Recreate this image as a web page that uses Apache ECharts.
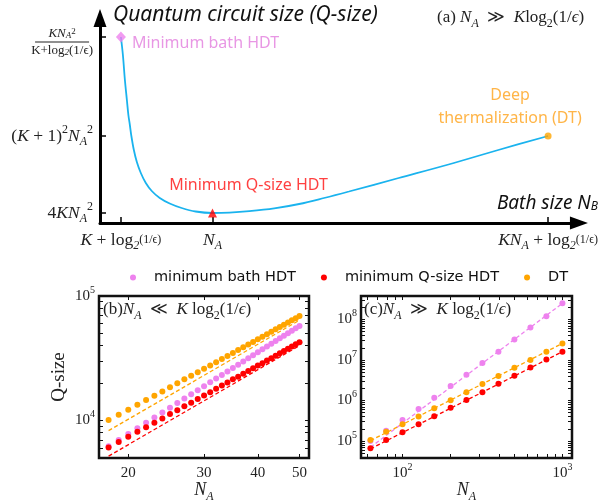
<!DOCTYPE html>
<html>
<head>
<meta charset="utf-8">
<script src="https://cdn.jsdelivr.net/npm/echarts@6.0.0/dist/echarts.min.js"></script>
<style>
html,body{margin:0;padding:0;background:#fff;}
#main{width:601px;height:504px;}
</style>
</head>
<body>
<div id="main"></div>
<script>
var SERIF = 'Liberation Serif';
var SANS = 'Noto Sans';

// ---- (a) schematic Q-size vs bath size, arbitrary units ----
var curveX = [21, 23, 25, 27, 28.5, 30, 31.5, 34, 37, 41, 46, 52, 60, 70, 82, 96, 113, 130, 150, 175, 200, 225, 250, 300, 350, 400, 450];
var curveY = [186, 168, 143, 123, 108, 98, 87, 73, 61, 50, 40, 32, 25, 19.5, 15, 11.5, 10, 10.4, 11.8, 14.6, 19, 25, 31.5, 45, 58.5, 73, 87];
var aTickX = [21, 113, 450];
var aTickXLabels = [
  '{it|K}{rm| + log}{sb|2}{sm|(1/ϵ)}',
  '{it|N}{sb|A}',
  '{it|KN}{sb|A}{rm| + log}{sb|2}{sm|(1/ϵ)}'
];
var aTickY = [10, 87, 186];
var aTickYLabels = [
  '{rm|4}{it|KN}{sb|A}{sp|2}',
  '{rm|(}{it|K}{rm| + 1)}{sp|2}{it|N}{sb|A}{sp|2}',
  '{gap| }\n{fn|KN}{fb|A}{fs|2}\n{bar| }\n{fd|K+log}{fb|2}{fd|(1/ϵ)}'
];

// ---- (b) N_A << K log2(1/eps) ----
var nB = [18,19,20,21,22,23,24,25,26,27,28,29,30,31,32,33,34,35,36,37,38,39,40,41,42,43,44,45,46,47,48,49,50];
var bathB = [6200,6980,7800,8680,9600,10580,11610,12690,13820,15010,16240,17540,18880,20280,21730,23240,24800,26420,28100,29830,31610,33450,35350,37300,39320,41390,43510,45700,47940,50240,52600,55020,57500];
var qsizeB = [6080,6730,7400,8110,8840,9610,10400,11300,12100,13000,13900,14900,15900,16900,18000,19100,20200,21400,22500,23800,25000,26300,27600,28900,30300,31700,33200,34700,36200,37700,39300,40900,42500];
var dtB = [10100,11100,12200,13400,14600,15800,17100,18500,19900,21400,22900,24400,26000,27700,29400,31200,33000,34900,36800,38700,40800,42800,45000,47100,49400,51600,54000,56300,58800,61300,63800,66400,69000];
var fitNB = [18, 50];
var qsizeFitB = [5180, 40000];
var dtFitB = [8290, 64000];
var bTicksY = [5000,6000,7000,8000,9000,10000,20000,30000,40000,50000,60000,70000,80000,90000,100000];
var bLabelsY = [10000, 100000];
var bTicksX = [20, 30, 40, 50];

// ---- (c) N_A >> K log2(1/eps) ----
var nC = [63, 79, 100, 126, 158, 200, 251, 316, 398, 501, 631, 794, 1000];
var bathC = [1.0e5, 1.8e5, 3.3e5, 6.2e5, 1.17e6, 2.27e6, 4.3e6, 8.4e6, 1.6e7, 3.2e7, 6.3e7, 1.2e8, 2.5e8];
var qsizeC = [6.6e4, 1.05e5, 1.65e5, 2.6e5, 4.1e5, 6.6e5, 1.03e6, 1.6e6, 2.6e6, 4.1e6, 6.5e6, 1.03e7, 1.6e7];
var dtC = [1.05e5, 1.7e5, 2.6e5, 4.0e5, 6.4e5, 1.02e6, 1.6e6, 2.55e6, 4.0e6, 6.4e6, 1.0e7, 1.6e7, 2.56e7];
var fitNC = [63, 1000];
var bathFitC = [7.0e4, 2.5e8];
var qsizeFitC = [6.4e4, 1.6e7];
var dtFitC = [1.02e5, 2.56e7];
var cTicksY = [4e4,5e4,6e4,7e4,8e4,9e4,1e5,2e5,3e5,4e5,5e5,6e5,7e5,8e5,9e5,1e6,2e6,3e6,4e6,5e6,6e6,7e6,8e6,9e6,1e7,2e7,3e7,4e7,5e7,6e7,7e7,8e7,9e7,1e8,2e8,3e8];
var cLabelsY = [1e5, 1e6, 1e7, 1e8];
var cTicksX = [60,70,80,90,100,200,300,400,500,600,700,800,900,1000];
var cLabelsX = [100, 1000];

var names = ['minimum bath HDT', 'minimum Q-size HDT', 'DT'];
var colors = ['#ee82ee', '#ff0000', '#ffa500'];

function pairs(xs, ys) {
  return xs.map(function (x, i) { return [x, ys[i]]; });
}
function lookup(vals, labels) {
  return function (v) {
    for (var i = 0; i < vals.length; i++) {
      if (Math.abs(v - vals[i]) < 1e-6 * Math.max(1, Math.abs(vals[i]))) return labels[i];
    }
    return '';
  };
}
function pow10(v) {
  return '{b|10}{e|' + Math.round(Math.log10(v)) + '}';
}

var ink = '#222';
var mathRich = {
  rm: {fontFamily: SERIF, fontSize: 17.5, lineHeight: 24, color: ink},
  it: {fontFamily: SERIF, fontStyle: 'italic', fontSize: 17.5, lineHeight: 24, color: ink},
  sp: {fontFamily: SERIF, fontSize: 12, lineHeight: 14, verticalAlign: 'top', color: ink},
  sb: {fontFamily: SERIF, fontStyle: 'italic', fontSize: 12, lineHeight: 14, verticalAlign: 'bottom', color: ink},
  sm: {fontFamily: SERIF, fontSize: 12, lineHeight: 24, color: ink},
  gap: {fontSize: 6, lineHeight: 10, align: 'center'},
  fn: {fontFamily: SERIF, fontStyle: 'italic', fontSize: 13, lineHeight: 13, align: 'center', color: ink},
  fs: {fontFamily: SERIF, fontSize: 9, lineHeight: 13, verticalAlign: 'top', align: 'center', color: ink},
  fb: {fontFamily: SERIF, fontStyle: 'italic', fontSize: 9, lineHeight: 13, verticalAlign: 'bottom', align: 'center', color: ink},
  bar: {width: 54, height: 1, lineHeight: 4, backgroundColor: ink, align: 'center'},
  fd: {fontFamily: SERIF, fontSize: 13, lineHeight: 13, align: 'center', color: ink}
};
var powRich = {
  b: {fontFamily: SERIF, fontSize: 15, lineHeight: 22, color: ink},
  e: {fontFamily: SERIF, fontSize: 10, lineHeight: 12, verticalAlign: 'top', color: ink}
};
var nameRich = {
  i: {fontFamily: SERIF, fontStyle: 'italic', fontSize: 18, lineHeight: 24, color: ink},
  s: {fontFamily: SERIF, fontStyle: 'italic', fontSize: 12, lineHeight: 14, verticalAlign: 'bottom', color: ink}
};
var panelRich = {
  r: {fontFamily: SERIF, fontWeight: 'normal', fontSize: 17, lineHeight: 24, color: ink},
  i: {fontFamily: SERIF, fontWeight: 'normal', fontStyle: 'italic', fontSize: 17, lineHeight: 24, color: ink},
  s: {fontFamily: SERIF, fontWeight: 'normal', fontSize: 12, lineHeight: 14, verticalAlign: 'bottom', color: ink},
  si: {fontFamily: SERIF, fontWeight: 'normal', fontStyle: 'italic', fontSize: 12, lineHeight: 14, verticalAlign: 'bottom', color: ink}
};

var tickStyle = {show: true, inside: true, length: 4, lineStyle: {color: '#111', width: 1}};

function logAxis(grid, pos, min, max, ticks, labels, fmt, extra) {
  var ax = {
    type: 'log', gridIndex: grid, position: pos, min: min, max: max, logBase: 10,
    axisLine: {show: false},
    axisTick: Object.assign({customValues: ticks}, tickStyle),
    minorTick: {show: false},
    splitLine: {show: false},
    axisLabel: labels ? {customValues: labels, formatter: fmt, rich: powRich, fontFamily: SERIF, fontSize: 15, color: ink, margin: 4} : {show: false}
  };
  return Object.assign(ax, extra || {});
}

var myChart = echarts.init(document.getElementById('main'));

var option = {
  animation: false,
  backgroundColor: '#fff',
  title: [
    {left: 432, top: 1, text: '{r|(a) }{i|N}{si|A}{r|  ≫  }{i|K}{r|log}{s|2}{r|(1/}{i|ϵ}{r|)}', textStyle: {fontWeight: 'normal', rich: panelRich}},
    {left: 98, top: 293, text: '{r|(b)}{i|N}{si|A}{r|  ≪  }{i|K}{r| log}{s|2}{r|(1/}{i|ϵ}{r|)}', textStyle: {fontWeight: 'normal', rich: panelRich}},
    {left: 359, top: 293, text: '{r|(c)}{i|N}{si|A}{r|  ≫  }{i|K}{r| log}{s|2}{r|(1/}{i|ϵ}{r|)}', textStyle: {fontWeight: 'normal', rich: panelRich}}
  ],
  legend: {
    data: names, top: 265, left: 125, icon: 'circle', itemWidth: 32, itemHeight: 6, itemGap: 25,
    textStyle: {fontFamily: 'DejaVu Sans', fontSize: 14.5, color: '#111'}
  },
  grid: [
    {left: 100, top: 18, width: 481, height: 205},
    {left: 99, top: 296, width: 210, height: 162, show: true, borderColor: '#111', borderWidth: 2.5, backgroundColor: 'transparent'},
    {left: 361, top: 296, width: 211, height: 162, show: true, borderColor: '#111', borderWidth: 2.5, backgroundColor: 'transparent'}
  ],
  xAxis: [
    {
      type: 'value', gridIndex: 0, min: 0, max: 481,
      axisLine: {show: true, onZero: false, symbol: ['none', 'triangle'], symbolSize: [13, 18], lineStyle: {color: '#000', width: 3}},
      axisTick: {show: true, inside: true, length: 6, customValues: aTickX, lineStyle: {color: '#000', width: 1.5}},
      axisLabel: {customValues: aTickX, formatter: lookup(aTickX, aTickXLabels), rich: mathRich, margin: 5},
      splitLine: {show: false},
      name: 'Bath size {i|N}{s|B}', nameLocation: 'end', nameGap: 19,
      nameTextStyle: {fontFamily: SANS, fontStyle: 'italic', fontSize: 19, color: '#111', align: 'right', verticalAlign: 'bottom', padding: [0, 0, 10, 0],
        rich: {i: {fontFamily: SANS, fontStyle: 'italic', fontSize: 19, color: '#111'}, s: {fontFamily: SANS, fontStyle: 'italic', fontSize: 12, verticalAlign: 'bottom', color: '#111'}}}
    },
    logAxis(1, 'bottom', 17.1, 52.6, bTicksX, bTicksX, function (v) { return '{b|' + Math.round(v) + '}'; },
      {name: '{i|N}{s|A}', nameLocation: 'middle', nameGap: 13, nameTextStyle: {rich: nameRich}}),
    logAxis(1, 'top', 17.1, 52.6, bTicksX, null),
    logAxis(2, 'bottom', 55, 1148, cTicksX, cLabelsX, pow10,
      {name: '{i|N}{s|A}', nameLocation: 'middle', nameGap: 13, nameTextStyle: {rich: nameRich}}),
    logAxis(2, 'top', 55, 1148, cTicksX, null)
  ],
  yAxis: [
    {
      type: 'value', gridIndex: 0, min: 0, max: 205,
      axisLine: {show: true, onZero: false, symbol: ['none', 'triangle'], symbolSize: [13, 18], lineStyle: {color: '#000', width: 3}},
      axisTick: {show: true, inside: true, length: 6, customValues: aTickY, lineStyle: {color: '#000', width: 1.5}},
      axisLabel: {customValues: aTickY, formatter: lookup(aTickY, aTickYLabels), rich: mathRich, margin: 7},
      splitLine: {show: false},
      name: 'Quantum circuit size (Q-size)', nameLocation: 'end', nameGap: 3,
      nameTextStyle: {fontFamily: SANS, fontStyle: 'italic', fontSize: 21, color: '#111', align: 'left', verticalAlign: 'middle', padding: [0, 0, 0, 13]}
    },
    logAxis(1, 'left', 5000, 100000, bTicksY, bLabelsY, pow10,
      {name: 'Q-size', nameLocation: 'middle', nameGap: 30, nameTextStyle: {fontFamily: SERIF, fontSize: 19, color: ink}}),
    logAxis(1, 'right', 5000, 100000, bTicksY, null),
    logAxis(2, 'left', 38000, 3.8e8, cTicksY, cLabelsY, pow10),
    logAxis(2, 'right', 38000, 3.8e8, cTicksY, null)
  ],
  series: []
};

// panel (a)
var iMin = 0;
curveY.forEach(function (y, i) { if (y < curveY[iMin]) iMin = i; });
var last = curveX.length - 1;
var annoFont = {fontFamily: SANS, fontSize: 16};
option.series.push(
  {type: 'line', xAxisIndex: 0, yAxisIndex: 0, data: pairs(curveX, curveY), smooth: 0.35, showSymbol: false,
    lineStyle: {color: '#1ab3ee', width: 1.8}, silent: true},
  {type: 'scatter', xAxisIndex: 0, yAxisIndex: 0, data: [[curveX[0], curveY[0]]], symbol: 'diamond', symbolSize: [10, 11],
    itemStyle: {color: '#ee82ee'}, z: 5,
    label: Object.assign({show: true, formatter: 'Minimum bath HDT', position: 'right', distance: 6, offset: [0, 6], color: '#e27ddd'}, annoFont)},
  {type: 'scatter', xAxisIndex: 0, yAxisIndex: 0, data: [[curveX[iMin], curveY[iMin]]], symbol: 'triangle', symbolSize: 9,
    itemStyle: {color: '#ff0000'}, z: 5,
    label: Object.assign({show: true, formatter: 'Minimum Q-size HDT', position: 'top', distance: 4, offset: [36, -11], color: '#ff1010'}, annoFont)},
  {type: 'scatter', xAxisIndex: 0, yAxisIndex: 0, data: [[curveX[last], curveY[last]]], symbol: 'circle', symbolSize: 7,
    itemStyle: {color: '#ffa500'}, z: 5,
    label: Object.assign({show: true, formatter: 'Deep\nthermalization (DT)', position: 'top', distance: 3, offset: [-38, 0], lineHeight: 23, align: 'center', color: '#ffa21a'}, annoFont)}
);

// panels (b) and (c)
function fitLine(xi, yi, xs, ys, color) {
  return {type: 'line', name: 'fit', xAxisIndex: xi, yAxisIndex: yi, data: pairs(xs, ys), showSymbol: false, silent: true, z: 2,
    lineStyle: {color: color, width: 1.3, type: [4, 2.5]}};
}
function dots(xi, yi, name, xs, ys, color) {
  return {type: 'scatter', name: name, xAxisIndex: xi, yAxisIndex: yi, data: pairs(xs, ys), symbolSize: 6, z: 3,
    itemStyle: {color: color, opacity: 1}};
}
option.series.push(
  fitLine(1, 1, fitNB, qsizeFitB, colors[1]),
  fitLine(1, 1, fitNB, dtFitB, colors[2]),
  dots(1, 1, names[0], nB, bathB, colors[0]),
  dots(1, 1, names[1], nB, qsizeB, colors[1]),
  dots(1, 1, names[2], nB, dtB, colors[2]),
  fitLine(3, 3, fitNC, bathFitC, colors[0]),
  fitLine(3, 3, fitNC, qsizeFitC, colors[1]),
  fitLine(3, 3, fitNC, dtFitC, colors[2]),
  dots(3, 3, names[0], nC, bathC, colors[0]),
  dots(3, 3, names[1], nC, qsizeC, colors[1]),
  dots(3, 3, names[2], nC, dtC, colors[2])
);

myChart.setOption(option);
</script>
</body>
</html>
